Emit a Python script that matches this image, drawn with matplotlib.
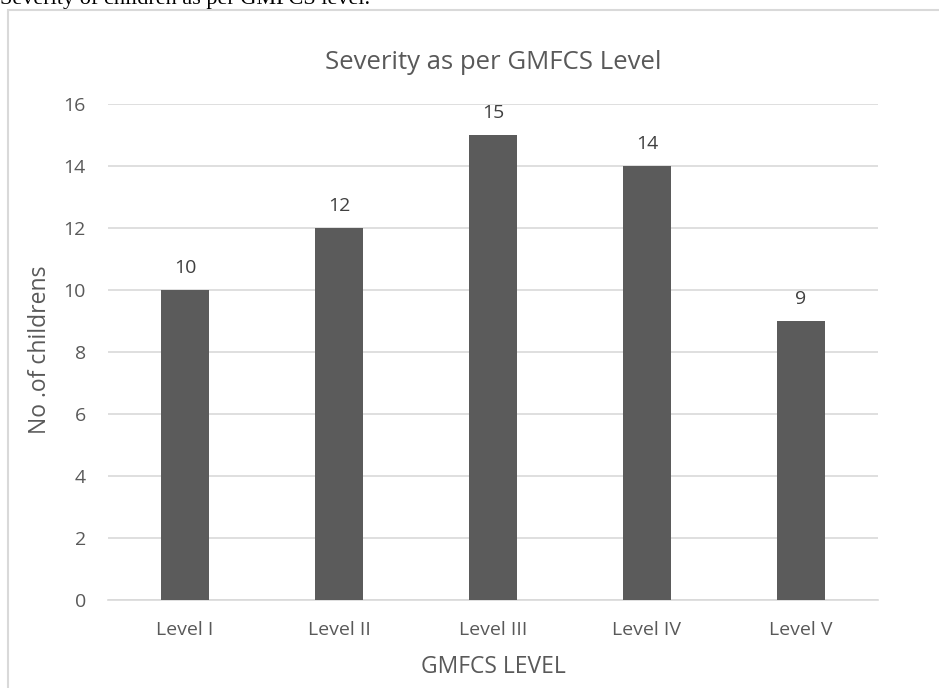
import matplotlib
matplotlib.use("Agg")
import matplotlib.pyplot as plt
from matplotlib.patches import Rectangle

levels = ["Level I", "Level II", "Level III", "Level IV", "Level V"]
children = [10, 12, 15, 14, 9]
y_ticks = [0, 2, 4, 6, 8, 10, 12, 14, 16]

TEXT = "#595959"
GRID = "#D9D9D9"
BAR = "#5B5B5B"

plt.rcParams["font.family"] = ["Open Sans", "DejaVu Sans"]

fig = plt.figure(figsize=(9.39, 6.88), dpi=100)
ax = fig.add_axes([0.115, 0.128, 0.82, 0.721])

x = range(len(levels))
ax.bar(x, children, width=0.31, color=BAR, zorder=3)
for xi, v in zip(x, children):
    ax.annotate(str(v), (xi, v), xytext=(0, 9), textcoords="offset points",
                ha="center", va="bottom", fontsize=14, color="#404040")

ax.set_xlim(-0.5, len(levels) - 0.5)
ax.set_ylim(0, 16)
ax.set_yticks(y_ticks)
ax.set_xticks(list(x))
ax.set_xticklabels(levels)
ax.tick_params(axis="both", length=0, labelsize=14, colors=TEXT)
ax.tick_params(axis="y", pad=16)
ax.tick_params(axis="x", pad=15)
ax.yaxis.grid(True, color=GRID, linewidth=1.2, zorder=0)
for side in ["top", "right", "left"]:
    ax.spines[side].set_visible(False)
ax.spines["bottom"].set_color(GRID)
ax.spines["bottom"].set_linewidth(1.2)

ax.set_xlabel("GMFCS LEVEL", fontsize=16.5, color=TEXT, labelpad=12)
fig.text(40 / 939, 1 - 350 / 688, "No .of childrens", rotation=90,
         ha="center", va="center", fontsize=16.5, color=TEXT)
fig.text(493 / 939, 1 - 69 / 688, "Severity as per GMFCS Level", ha="center",
         va="baseline", fontsize=18.5, color=TEXT)

# chart frame and the caption line above it
fig.add_artist(Rectangle((8 / 939, -0.05), 1.0, 1 - 10 / 688 + 0.05,
                         transform=fig.transFigure, fill=False,
                         edgecolor=GRID, linewidth=1.5))
fig.text(0.0, 1 - 4 / 688, "Severity of children as per GMFCS level.",
         ha="left", va="baseline", fontsize=16, color="black",
         family=["Liberation Serif"])

fig.savefig("out.png", dpi=100)
